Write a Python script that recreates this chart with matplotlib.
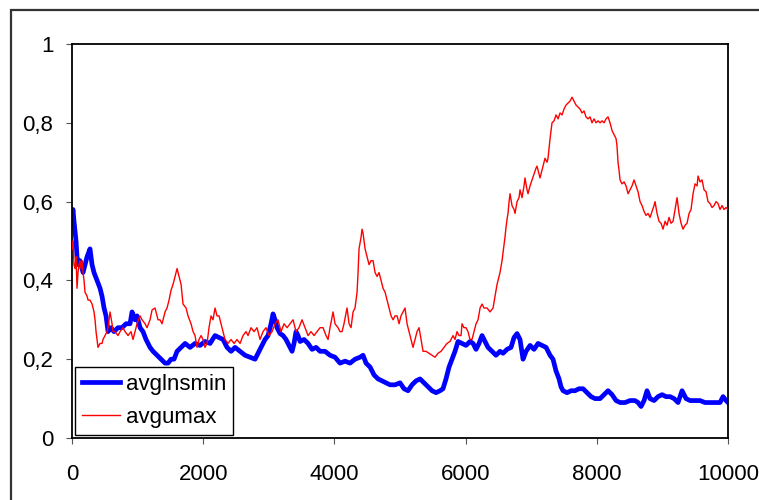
import matplotlib.pyplot as plt
from matplotlib.patches import Rectangle

plt.rcParams['font.family'] = ['Liberation Sans', 'DejaVu Sans']

# avglnsmin series (step, value)
steps_min = [0, 15, 30, 61, 76, 91, 122, 168, 198, 229, 274, 305, 335, 381, 427, 457, 488, 518,
             549, 595, 640, 701, 762, 823, 884, 915, 960, 991, 1037, 1082, 1128, 1189, 1235, 1296,
             1357, 1418, 1463, 1509, 1555, 1601, 1662, 1723, 1799, 1875, 1951, 2027, 2104, 2180,
             2241, 2302, 2363, 2424, 2485, 2561, 2637, 2713, 2790, 2835, 2881, 2942, 2988, 3034,
             3064, 3095, 3125, 3171, 3217, 3262, 3308, 3354, 3384, 3415, 3445, 3476, 3537, 3598,
             3659, 3720, 3781, 3857, 3933, 4009, 4085, 4162, 4238, 4314, 4390, 4436, 4482, 4543,
             4604, 4665, 4726, 4787, 4848, 4924, 5000, 5061, 5122, 5183, 5244, 5305, 5366, 5427,
             5488, 5549, 5610, 5655, 5701, 5747, 5793, 5838, 5884, 5945, 6006, 6067, 6113, 6159,
             6204, 6250, 6296, 6341, 6402, 6463, 6524, 6570, 6631, 6692, 6738, 6784, 6829, 6875,
             6921, 6982, 7043, 7104, 7165, 7226, 7287, 7332, 7378, 7424, 7454, 7485, 7546, 7607,
             7668, 7729, 7790, 7851, 7912, 7973, 8049, 8110, 8171, 8232, 8293, 8354, 8430, 8506,
             8582, 8628, 8674, 8720, 8765, 8811, 8872, 8933, 8994, 9055, 9116, 9177, 9238, 9299,
             9360, 9421, 9497, 9573, 9649, 9726, 9802, 9878, 9924, 9970, 10000]
avglnsmin = [0.57, 0.58, 0.55, 0.50, 0.46, 0.44, 0.45, 0.42, 0.44, 0.46, 0.48, 0.44, 0.42, 0.40,
             0.38, 0.36, 0.33, 0.31, 0.27, 0.28, 0.27, 0.28, 0.28, 0.29, 0.29, 0.32, 0.30, 0.31,
             0.28, 0.27, 0.25, 0.23, 0.22, 0.21, 0.20, 0.19, 0.19, 0.20, 0.20, 0.22, 0.23, 0.24,
             0.23, 0.24, 0.235, 0.245, 0.24, 0.26, 0.255, 0.25, 0.23, 0.22, 0.23, 0.22, 0.21,
             0.205, 0.20, 0.215, 0.23, 0.25, 0.26, 0.29, 0.315, 0.30, 0.28, 0.265, 0.26, 0.25,
             0.235, 0.22, 0.24, 0.27, 0.26, 0.245, 0.25, 0.24, 0.225, 0.23, 0.22, 0.22, 0.21,
             0.205, 0.19, 0.195, 0.19, 0.20, 0.205, 0.21, 0.19, 0.18, 0.16, 0.15, 0.145, 0.14,
             0.135, 0.135, 0.14, 0.125, 0.12, 0.135, 0.145, 0.15, 0.14, 0.13, 0.12, 0.115, 0.12,
             0.125, 0.15, 0.18, 0.20, 0.22, 0.245, 0.24, 0.235, 0.245, 0.24, 0.225, 0.24, 0.26,
             0.245, 0.23, 0.22, 0.21, 0.22, 0.215, 0.225, 0.23, 0.255, 0.265, 0.25, 0.20, 0.22,
             0.235, 0.225, 0.24, 0.235, 0.23, 0.21, 0.20, 0.17, 0.15, 0.13, 0.12, 0.115, 0.12,
             0.12, 0.125, 0.125, 0.115, 0.105, 0.10, 0.10, 0.11, 0.12, 0.11, 0.095, 0.09, 0.09,
             0.095, 0.095, 0.09, 0.08, 0.095, 0.12, 0.10, 0.095, 0.105, 0.11, 0.105, 0.105, 0.10,
             0.09, 0.12, 0.10, 0.095, 0.095, 0.095, 0.09, 0.09, 0.09, 0.09, 0.105, 0.095, 0.09]

# avgumax series (step, value)
steps_max = [0, 15, 30, 46, 61, 76, 91, 107, 122, 137, 152, 168, 183, 198, 229, 244, 274, 305,
             320, 335, 351, 366, 381, 396, 427, 457, 472, 503, 534, 549, 579, 610, 625, 655, 701,
             732, 777, 808, 854, 899, 930, 960, 991, 1037, 1067, 1113, 1143, 1189, 1220, 1265,
             1311, 1341, 1372, 1418, 1448, 1479, 1509, 1540, 1570, 1601, 1631, 1662, 1692, 1738,
             1768, 1814, 1845, 1875, 1906, 1936, 1967, 1997, 2027, 2058, 2088, 2119, 2149, 2180,
             2210, 2241, 2271, 2302, 2332, 2378, 2424, 2470, 2515, 2561, 2607, 2652, 2683, 2729,
             2774, 2820, 2866, 2911, 2957, 3003, 3049, 3095, 3140, 3186, 3232, 3278, 3323, 3369,
             3415, 3460, 3506, 3552, 3598, 3643, 3689, 3735, 3781, 3826, 3872, 3903, 3933, 3979,
             4009, 4055, 4085, 4116, 4146, 4192, 4223, 4253, 4284, 4314, 4345, 4360, 4375, 4406,
             4421, 4436, 4467, 4497, 4528, 4558, 4589, 4619, 4650, 4680, 4711, 4741, 4772, 4802,
             4833, 4863, 4894, 4924, 4955, 4985, 5015, 5046, 5076, 5107, 5137, 5168, 5198, 5229,
             5259, 5290, 5320, 5351, 5396, 5442, 5488, 5533, 5579, 5625, 5671, 5716, 5762, 5808,
             5838, 5869, 5899, 5930, 5945, 5975, 6006, 6036, 6067, 6097, 6128, 6159, 6189, 6220,
             6250, 6280, 6326, 6372, 6418, 6448, 6479, 6509, 6524, 6555, 6570, 6600, 6616, 6631,
             6646, 6662, 6677, 6707, 6738, 6753, 6784, 6814, 6829, 6860, 6890, 6905, 6936, 6951,
             6982, 7012, 7043, 7073, 7088, 7119, 7134, 7165, 7195, 7210, 7241, 7256, 7287, 7317,
             7348, 7378, 7409, 7439, 7470, 7500, 7530, 7561, 7591, 7622, 7652, 7683, 7713, 7744,
             7774, 7805, 7835, 7866, 7896, 7927, 7957, 7988, 8018, 8049, 8079, 8110, 8140, 8171,
             8201, 8232, 8262, 8293, 8308, 8323, 8338, 8354, 8384, 8415, 8445, 8476, 8506, 8537,
             8567, 8598, 8628, 8659, 8689, 8720, 8750, 8780, 8811, 8841, 8872, 8887, 8918, 8948,
             8979, 9009, 9040, 9070, 9101, 9131, 9162, 9192, 9223, 9253, 9284, 9314, 9345, 9375,
             9406, 9436, 9467, 9497, 9528, 9543, 9573, 9604, 9634, 9665, 9695, 9726, 9756, 9787,
             9817, 9848, 9878, 9909, 9939, 9970, 10000]
avgumax = [0.48, 0.50, 0.44, 0.43, 0.46, 0.38, 0.42, 0.44, 0.45, 0.43, 0.45, 0.42, 0.40, 0.37,
           0.36, 0.35, 0.35, 0.34, 0.33, 0.32, 0.30, 0.27, 0.25, 0.23, 0.24, 0.24, 0.25, 0.26,
           0.27, 0.28, 0.32, 0.29, 0.27, 0.27, 0.26, 0.27, 0.28, 0.27, 0.26, 0.27, 0.25, 0.27,
           0.29, 0.31, 0.30, 0.29, 0.28, 0.30, 0.325, 0.33, 0.30, 0.30, 0.29, 0.32, 0.33, 0.35,
           0.375, 0.39, 0.41, 0.43, 0.41, 0.39, 0.34, 0.33, 0.31, 0.29, 0.27, 0.26, 0.23, 0.25,
           0.26, 0.25, 0.23, 0.24, 0.28, 0.31, 0.30, 0.33, 0.31, 0.31, 0.29, 0.27, 0.25, 0.24,
           0.25, 0.24, 0.25, 0.24, 0.26, 0.27, 0.26, 0.28, 0.27, 0.28, 0.25, 0.27, 0.28, 0.26,
           0.27, 0.29, 0.30, 0.27, 0.29, 0.28, 0.29, 0.30, 0.27, 0.28, 0.30, 0.28, 0.26, 0.27,
           0.26, 0.27, 0.28, 0.28, 0.26, 0.25, 0.28, 0.32, 0.29, 0.28, 0.27, 0.27, 0.29, 0.33,
           0.29, 0.28, 0.32, 0.33, 0.37, 0.42, 0.48, 0.51, 0.53, 0.52, 0.48, 0.46, 0.44, 0.45,
           0.45, 0.42, 0.41, 0.42, 0.40, 0.38, 0.37, 0.35, 0.33, 0.31, 0.30, 0.31, 0.31, 0.29,
           0.31, 0.32, 0.33, 0.29, 0.27, 0.25, 0.23, 0.25, 0.27, 0.28, 0.25, 0.22, 0.22, 0.215,
           0.21, 0.205, 0.215, 0.22, 0.23, 0.24, 0.245, 0.26, 0.25, 0.27, 0.26, 0.26, 0.29,
           0.28, 0.28, 0.27, 0.25, 0.25, 0.27, 0.29, 0.30, 0.33, 0.34, 0.33, 0.33, 0.32, 0.33,
           0.36, 0.39, 0.41, 0.42, 0.45, 0.47, 0.51, 0.535, 0.555, 0.57, 0.60, 0.62, 0.59, 0.58,
           0.57, 0.60, 0.61, 0.63, 0.61, 0.64, 0.66, 0.63, 0.62, 0.64, 0.655, 0.67, 0.685, 0.69,
           0.67, 0.66, 0.68, 0.70, 0.71, 0.70, 0.71, 0.76, 0.80, 0.805, 0.82, 0.81, 0.825, 0.82,
           0.835, 0.845, 0.85, 0.855, 0.865, 0.855, 0.845, 0.84, 0.835, 0.825, 0.83, 0.815, 0.81,
           0.815, 0.80, 0.81, 0.80, 0.805, 0.80, 0.805, 0.80, 0.81, 0.815, 0.80, 0.78, 0.77,
           0.76, 0.74, 0.70, 0.68, 0.655, 0.645, 0.65, 0.64, 0.62, 0.63, 0.64, 0.655, 0.64,
           0.625, 0.60, 0.59, 0.575, 0.565, 0.57, 0.56, 0.575, 0.59, 0.60, 0.57, 0.55, 0.545,
           0.53, 0.55, 0.54, 0.56, 0.545, 0.55, 0.58, 0.61, 0.57, 0.545, 0.53, 0.54, 0.545, 0.57,
           0.58, 0.62, 0.645, 0.64, 0.665, 0.65, 0.655, 0.63, 0.625, 0.60, 0.595, 0.585, 0.59,
           0.60, 0.595, 0.58, 0.59, 0.58, 0.585, 0.58]

x_ticks = [0, 2000, 4000, 6000, 8000, 10000]
y_ticks = [0, 0.2, 0.4, 0.6, 0.8, 1]
y_tick_labels = ['0', '0,2', '0,4', '0,6', '0,8', '1']

fig = plt.figure(figsize=(7.59, 5.0), dpi=100)
ax = fig.add_axes([0.0949, 0.124, 0.8643, 0.788])

ax.plot(steps_min, avglnsmin, color='#0000ff', lw=3.4, label='avglnsmin', zorder=2)
ax.plot(steps_max, avgumax, color='#ff0000', lw=1.0, label='avgumax', zorder=3)

ax.set_xlim(0, 10000)
ax.set_ylim(0, 1)
ax.set_xticks(x_ticks)
ax.set_yticks(y_ticks)
ax.set_yticklabels(y_tick_labels)
ax.tick_params(direction='out', length=4.5, width=0.8, color='#555555', labelsize=16)
ax.tick_params(axis='x', pad=14)
ax.tick_params(axis='y', pad=9)
for sp in ax.spines.values():
    sp.set_color('black')
    sp.set_linewidth(1.3)

leg = ax.legend(loc='lower left', bbox_to_anchor=(0.005, 0.008), borderaxespad=0,
                fontsize=16, fancybox=False, edgecolor='black', framealpha=1,
                handlelength=1.7, labelspacing=0.55, borderpad=0.3, handletextpad=0.3)
leg.get_frame().set_linewidth(1.0)

# outer chart-area frame, running past the right and bottom edges
fig.patches.append(Rectangle((0.0145, -0.2), 1.2, 1.18, transform=fig.transFigure,
                             fill=False, edgecolor='#333333', lw=1.6, zorder=0))

fig.savefig('out.png', dpi=100)
